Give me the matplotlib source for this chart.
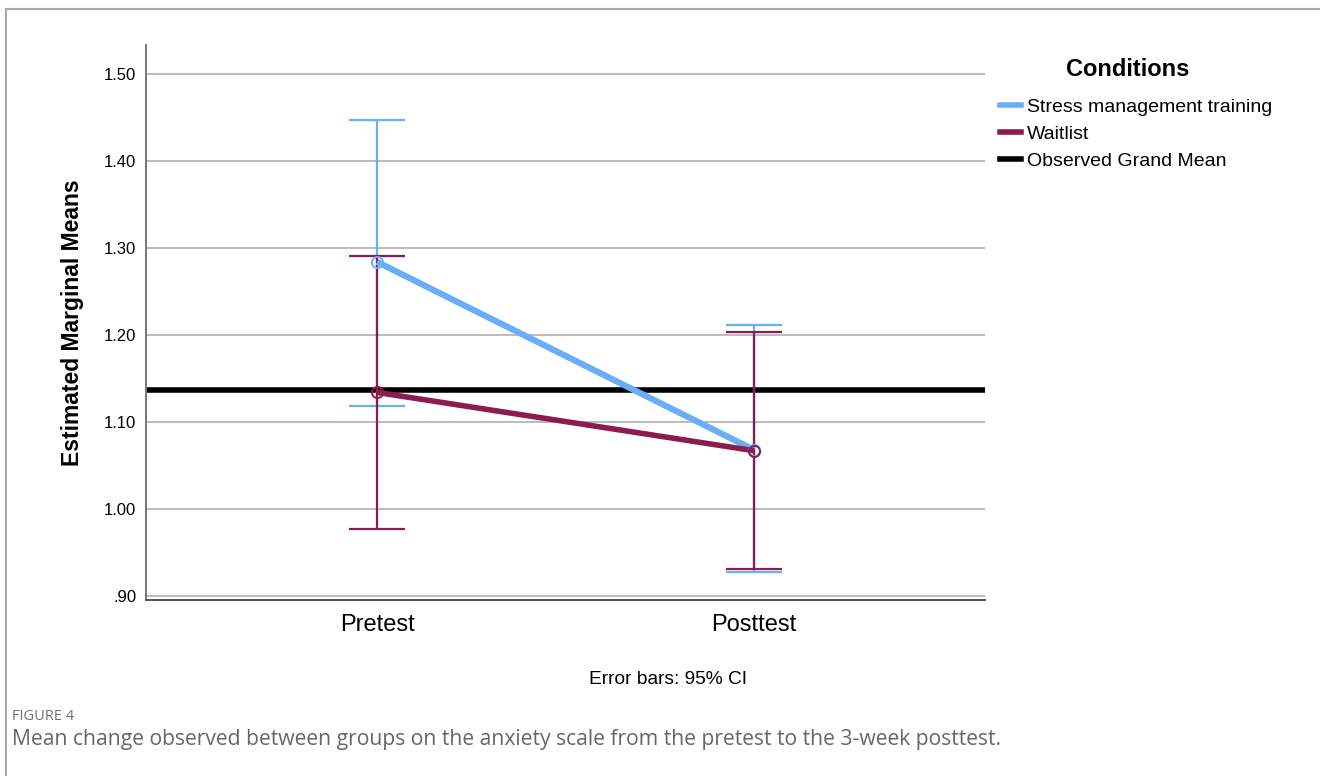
import matplotlib.pyplot as plt
from matplotlib.lines import Line2D

# values
times = ['Pretest', 'Posttest']
smt_mean = [1.284, 1.068]
smt_lo = [1.118, 0.928]
smt_hi = [1.447, 1.212]
wait_mean = [1.134, 1.067]
wait_lo = [0.977, 0.931]
wait_hi = [1.291, 1.203]
grand_mean = 1.137
yticks = [0.90, 1.00, 1.10, 1.20, 1.30, 1.40, 1.50]
ytick_labels = ['.90', '1.00', '1.10', '1.20', '1.30', '1.40', '1.50']

BLUE = '#6aaef5'
MAROON = '#8a1c4f'

plt.rcParams['font.family'] = ['Liberation Sans', 'DejaVu Sans']

fig = plt.figure(figsize=(13.2, 7.76), dpi=100)
W, H = 1320, 776
ax = fig.add_axes([146 / W, 1 - 600 / H, (985 - 146) / W, (600 - 45) / H])

x = list(range(len(times)))
# blue bars first, maroon bars drawn over them
for mean, lo, hi, col in [(smt_mean, smt_lo, smt_hi, BLUE),
                          (wait_mean, wait_lo, wait_hi, MAROON)]:
    err = [[m - l for m, l in zip(mean, lo)], [h - m for m, h in zip(mean, hi)]]
    ax.errorbar(x, mean, yerr=err, fmt='none', ecolor=col, elinewidth=1.6,
                capsize=20, capthick=1.6, zorder=3)
ax.plot(x, smt_mean, color=BLUE, lw=4.5, zorder=4, solid_capstyle='butt')
ax.plot(x, wait_mean, color=MAROON, lw=4, zorder=5, solid_capstyle='butt')
ax.plot(x, smt_mean, 'o', ms=8, mfc='none', mec=BLUE, mew=1.4, zorder=6)
ax.plot(x, wait_mean, 'o', ms=8, mfc='none', mec=MAROON, mew=1.4, zorder=6)
ax.axhline(grand_mean, color='black', lw=4, zorder=2)

ax.set_xlim(-0.613, 1.613)
ax.set_ylim(0.8954, 1.5333)
ax.set_yticks(yticks)
ax.set_yticklabels(ytick_labels, fontsize=12)
ax.set_xticks(x)
ax.set_xticklabels(times, fontsize=17)
ax.tick_params(axis='x', length=0, pad=10)
ax.tick_params(axis='y', length=0, pad=7)
ax.yaxis.grid(True, color='#bbbbbb', lw=1.4)
ax.set_axisbelow(True)
for s in ['top', 'right']:
    ax.spines[s].set_visible(False)
ax.spines['left'].set_color('#777777')
ax.spines['bottom'].set_color('#555555')
ax.spines['left'].set_linewidth(1.4)
ax.spines['bottom'].set_linewidth(1.4)
ax.set_ylabel('Estimated Marginal Means', fontsize=16.5, fontweight='bold', labelpad=14)

handles = [Line2D([], [], color=BLUE, lw=4),
           Line2D([], [], color=MAROON, lw=4),
           Line2D([], [], color='black', lw=4)]
fig.text(1128 / W, 1 - 70 / H, 'Conditions', fontsize=17, fontweight='bold',
         ha='center', va='center')
leg = fig.legend(handles, ['Stress management training', 'Waitlist', 'Observed Grand Mean'],
                 loc='upper left', bbox_to_anchor=(1000 / W, 1 - 98 / H), frameon=False,
                 fontsize=14, handlelength=1.1, handletextpad=0.3, labelspacing=0.5,
                 borderaxespad=0, borderpad=0)

fig.text(668 / W, 1 - 680 / H, 'Error bars: 95% CI', fontsize=13.8, ha='center', va='center')

fig.text(12 / W, 1 - 716 / H, 'FIGURE 4', fontsize=10.5, color='#707070', va='center',
         family=['Open Sans', 'DejaVu Sans'])
fig.text(12 / W, 1 - 740 / H,
         'Mean change observed between groups on the anxiety scale from the pretest to the 3-week posttest.',
         fontsize=15.2, color='#666666', va='center', family=['Open Sans', 'DejaVu Sans'])

# outer frame (left and top edges only)
fig.add_artist(Line2D([6 / W, 6 / W], [0, 1 - 9 / H], color='#aaaaaa', lw=1.5,
                      transform=fig.transFigure))
fig.add_artist(Line2D([6 / W, 1], [1 - 9 / H, 1 - 9 / H], color='#aaaaaa', lw=1.5,
                      transform=fig.transFigure))

fig.savefig('out.png', dpi=100)
